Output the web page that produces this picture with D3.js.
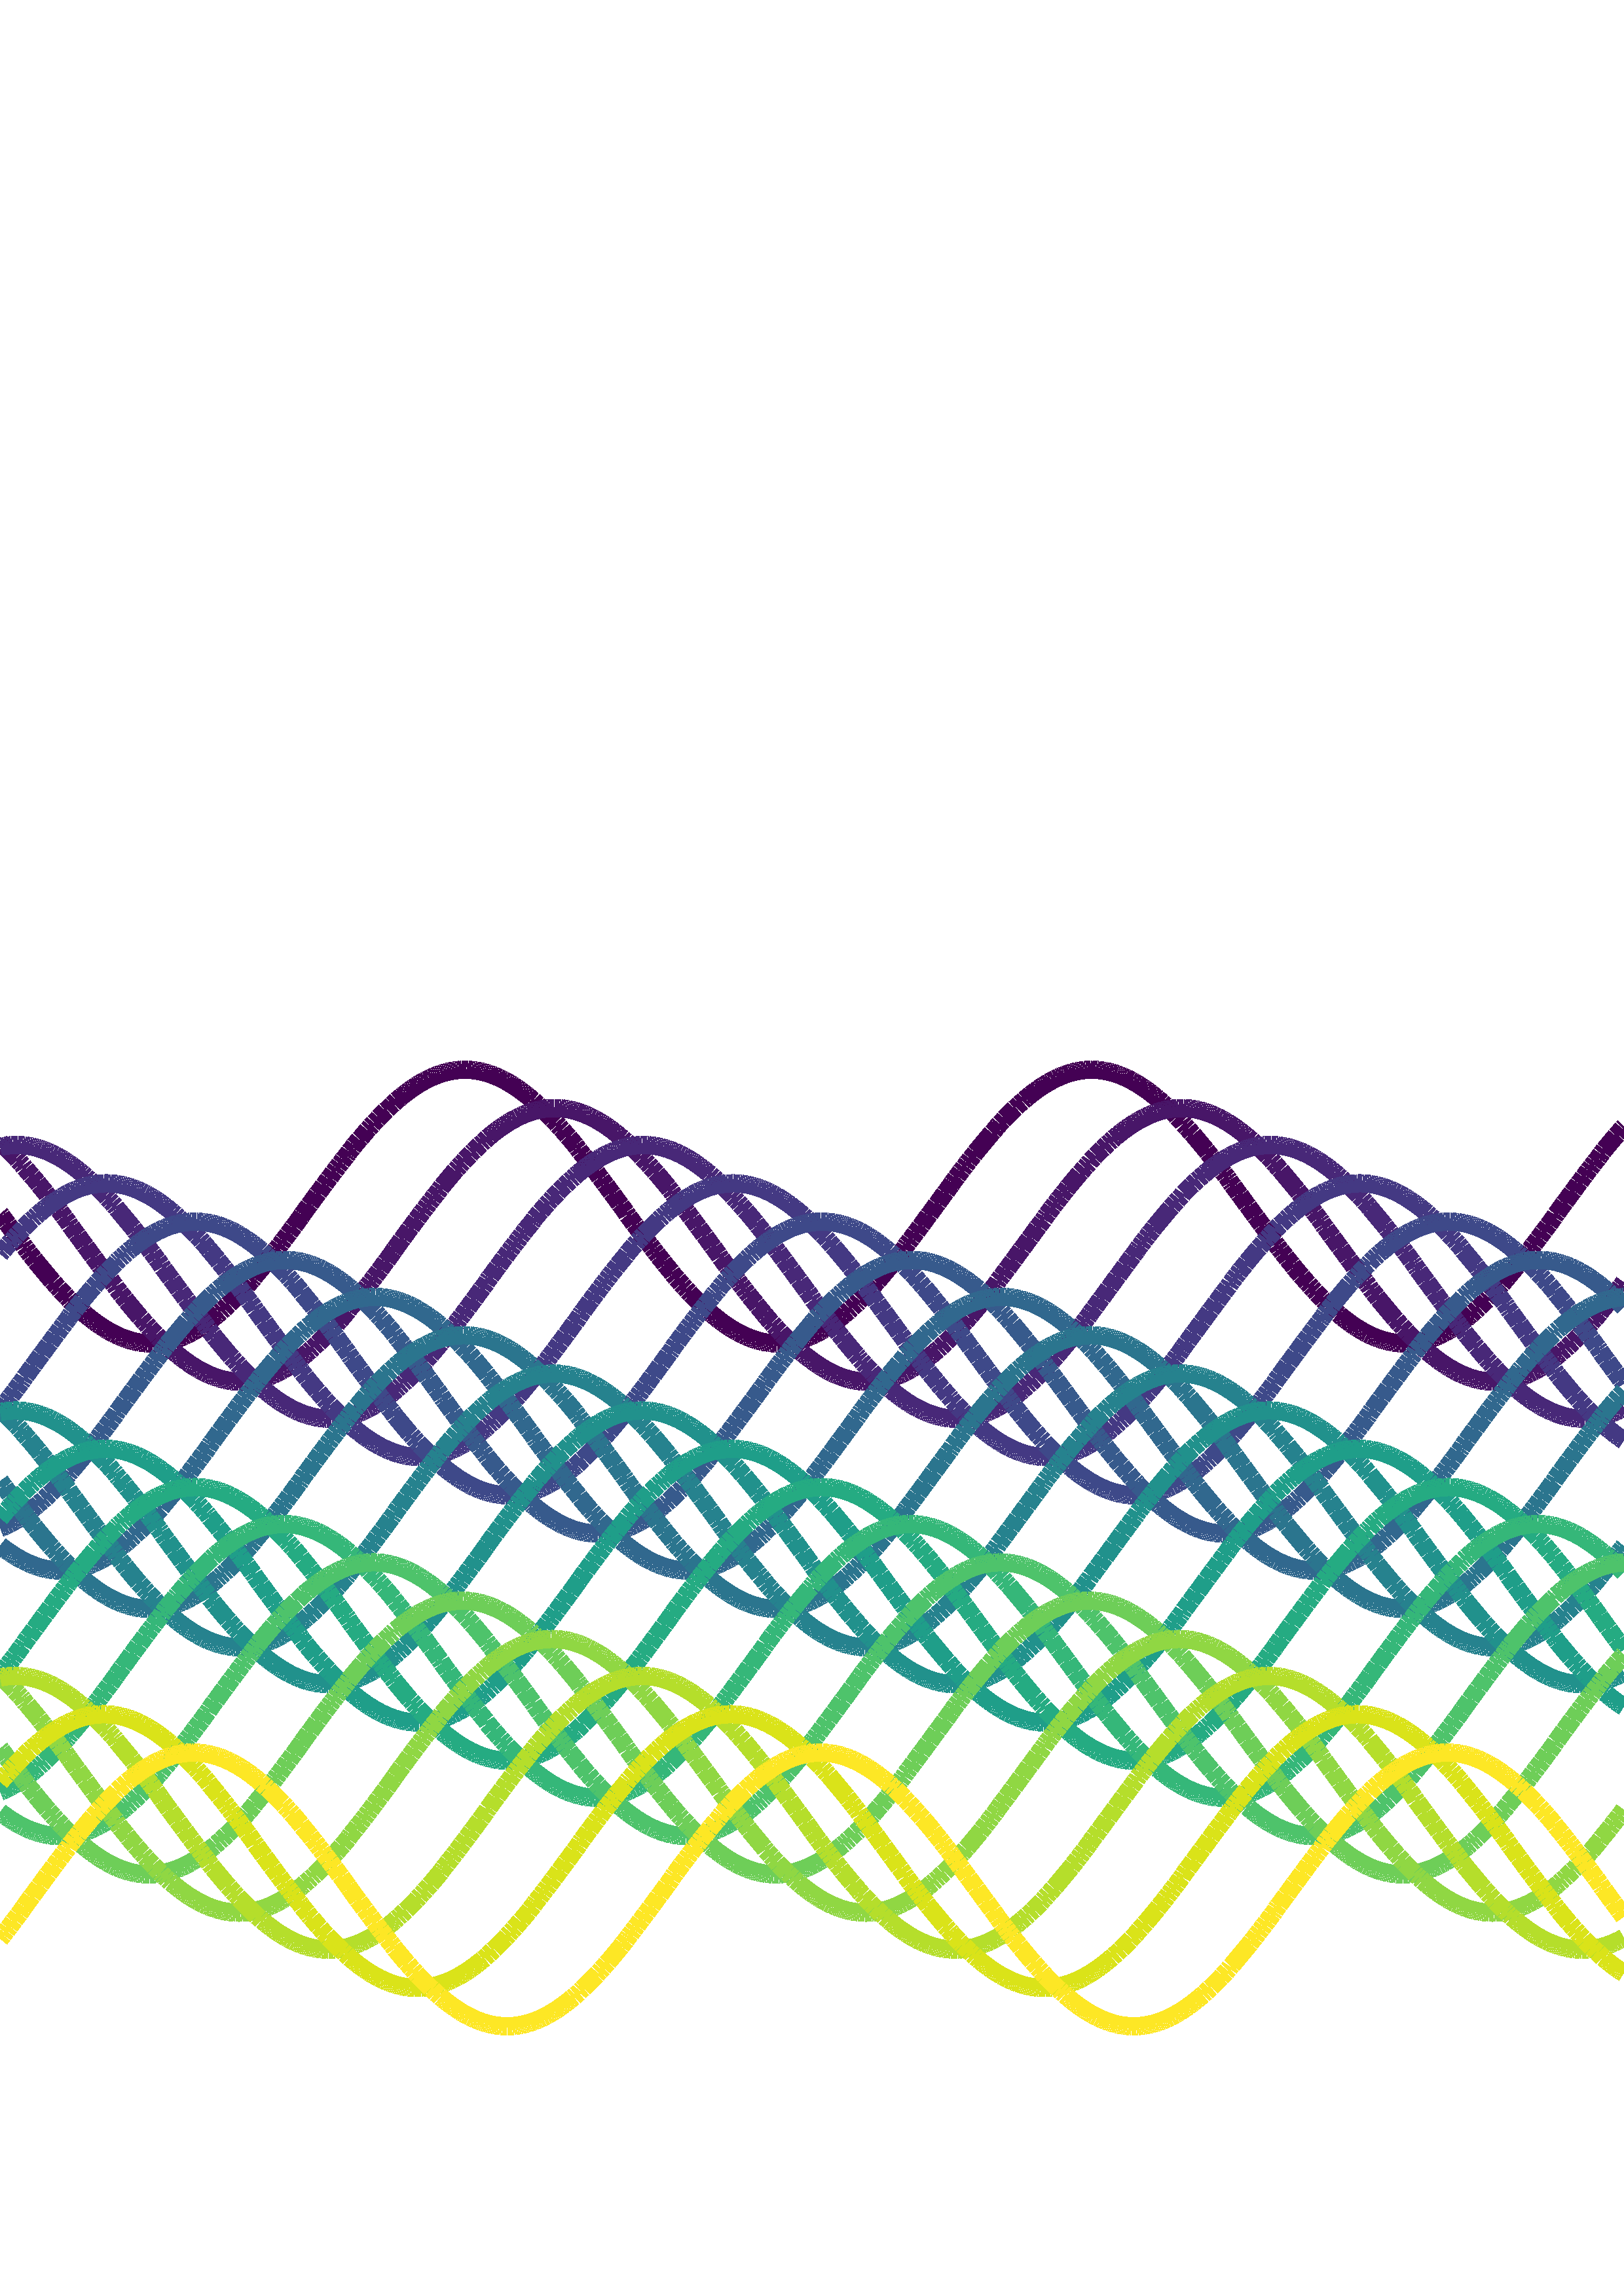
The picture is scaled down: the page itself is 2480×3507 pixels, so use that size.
<!DOCTYPE html>
<html>
<head>
<meta charset="utf-8">
<script src="https://cdn.jsdelivr.net/npm/d3@7"></script>
<style>
html, body { margin: 0; padding: 0; background: #ffffff; }
svg { display: block; }
</style>
</head>
<body>
<script>
// ---- data ----
// 19 sine series, each with its own vertical offset and phase (radians)
const seriesNames = d3.range(19).map(i => "series " + (i + 1));
const offsets = [0.00, -0.28, -0.55, -0.83, -1.11, -1.39, -1.66, -1.94, -2.22, -2.49,
                 -2.77, -3.05, -3.32, -3.60, -3.88, -4.16, -4.43, -4.71, -4.99];
const phases  = [-3.09, -3.99, -4.88, -5.78, -6.67, -7.57, -8.47, -9.36, -10.26, -11.15,
                 -12.05, -12.95, -13.84, -14.74, -15.63, -16.53, -17.43, -18.32, -19.22];
const amplitude = 1.0;
const xDomain = [0, 16.28];
const yDomain = [-5.99, 1.0];
const sampleCount = 1000;

// ---- layout ----
const W = 2480, H = 3507;
const x = d3.scaleLinear().domain(xDomain).range([0, W]);
const y = d3.scaleLinear().domain(yDomain).range([3095, 1634]);
const color = d3.scaleSequential(d3.interpolateViridis).domain([0, seriesNames.length - 1]);

const svg = d3.select("body").append("svg")
  .attr("width", W).attr("height", H)
  .attr("viewBox", `0 0 ${W} ${H}`);
svg.append("rect").attr("width", W).attr("height", H).attr("fill", "#ffffff");

const plot = svg.append("g");
const xs = d3.range(sampleCount).map(i => xDomain[0] + i * (xDomain[1] - xDomain[0]) / (sampleCount - 1));

// renderer imitation: on steep stretches the source's vertices sit on a coarse
// device grid, so the separately stroked segments leave hairline slits there
const grid = 0.5, steep = 0.85;
const snap = v => Math.round(v / grid) * grid;

seriesNames.forEach((name, k) => {
  const f = xv => offsets[k] + amplitude * Math.sin(xv + phases[k]);
  const pxPerX = (x.range()[1] - x.range()[0]) / (xDomain[1] - xDomain[0]);
  const pxPerY = Math.abs(y.range()[0] - y.range()[1]) / (yDomain[1] - yDomain[0]);
  const pts = xs.map(xv => {
    const slope = Math.abs(amplitude * Math.cos(xv + phases[k])) * pxPerY / pxPerX;
    const px = x(xv), py = y(f(xv));
    return slope > steep ? [snap(px), snap(py)] : [px, py];
  });
  const segs = d3.pairs(pts);
  plot.append("g")
    .attr("class", "series")
    .attr("data-name", name)
    .selectAll("line")
    .data(segs)
    .join("line")
    .attr("x1", d => d[0][0])
    .attr("y1", d => d[0][1])
    .attr("x2", d => d[1][0])
    .attr("y2", d => d[1][1])
    .attr("stroke", color(k))
    .attr("stroke-width", 28)
    .attr("stroke-linecap", "butt")
    .attr("shape-rendering", "crispEdges");
});
</script>
</body>
</html>
